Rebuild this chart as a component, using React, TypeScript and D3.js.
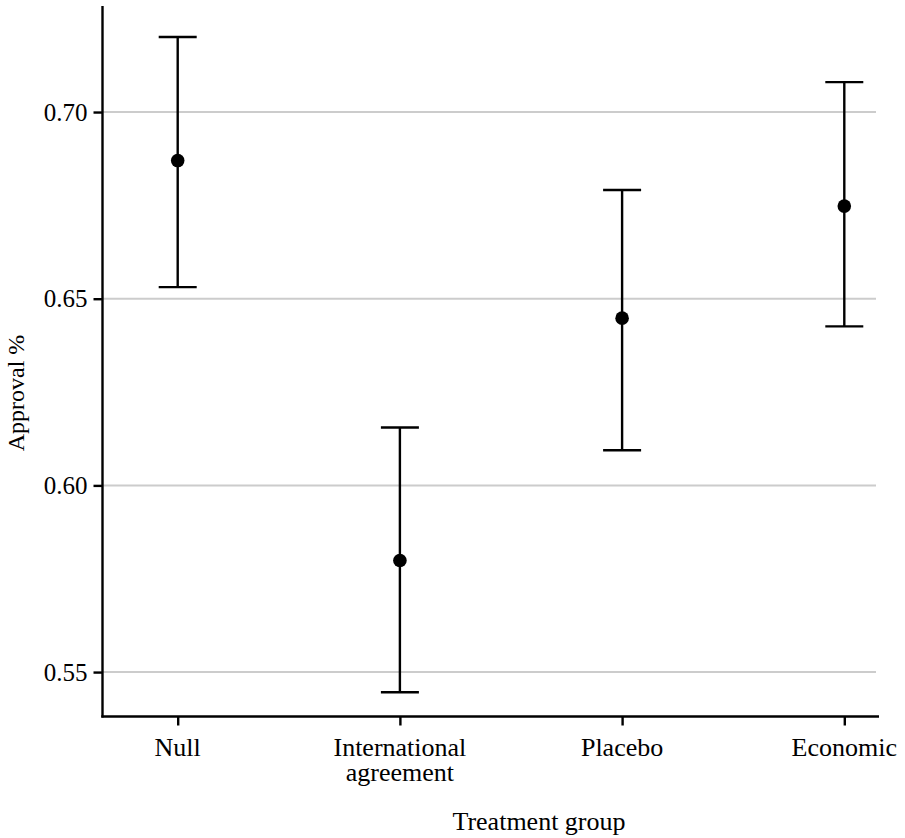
import React, { useEffect, useRef } from 'react';
import * as d3 from 'd3';

// Treatment groups and approval estimates (mean with 95% interval)
const groups = ['Null', 'International agreement', 'Placebo', 'Economic'];
const means = [0.687, 0.5799, 0.6448, 0.6748];
const lowers = [0.6531, 0.5446, 0.6094, 0.6426];
const uppers = [0.7201, 0.6155, 0.6791, 0.7080];
const yTicks = [0.55, 0.6, 0.65, 0.7];

const width = 905;
const height = 838;

const App = () => {
  const svgRef = useRef<SVGSVGElement>(null);

  useEffect(() => {
    const svg = d3.select(svgRef.current);
    svg.selectAll('*').remove();

    const font = '"Liberation Serif", "Times New Roman", serif';
    const left = 102.5;
    const right = 879;
    const top = 6;
    const bottom = 716.5;

    const x = d3.scalePoint<string>()
      .domain(groups)
      .range([177.7, 844.3]);

    const y = d3.scaleLinear()
      .domain([0.5381, 0.7284])
      .range([bottom, top]);

    // Grid lines
    svg.append('g')
      .selectAll('line')
      .data(yTicks)
      .join('line')
      .attr('x1', left)
      .attr('x2', 876)
      .attr('y1', d => y(d))
      .attr('y2', d => y(d))
      .attr('stroke', '#cccccc')
      .attr('stroke-width', 2);

    // Y axis
    const yAxis = svg.append('g')
      .attr('transform', `translate(${left},0)`)
      .call(d3.axisLeft(y).tickValues(yTicks).tickFormat(d3.format('.2f')).tickSize(9).tickPadding(6));
    yAxis.select('.domain').remove();
    yAxis.append('line')
      .attr('x1', 0).attr('x2', 0)
      .attr('y1', top).attr('y2', bottom + 1)
      .attr('stroke', '#000').attr('stroke-width', 2.4);
    yAxis.selectAll('.tick line').attr('stroke', '#000').attr('stroke-width', 2.4);
    yAxis.selectAll('.tick text')
      .attr('fill', '#000')
      .style('font-family', font)
      .style('font-size', '25px');

    // X axis
    const xAxis = svg.append('g')
      .attr('transform', `translate(0,${bottom})`)
      .call(d3.axisBottom(x).tickSize(9).tickFormat(() => ''));
    xAxis.select('.domain').remove();
    xAxis.append('line')
      .attr('x1', left - 1.2).attr('x2', right)
      .attr('y1', 0).attr('y2', 0)
      .attr('stroke', '#000').attr('stroke-width', 2.4);
    xAxis.selectAll('.tick line').attr('stroke', '#000').attr('stroke-width', 2.4);

    // Wrapped category labels
    const labelLines: Record<string, string[]> = {
      'International agreement': ['International', 'agreement'],
    };
    const xl = svg.append('g')
      .style('font-family', font)
      .style('font-size', '26px');
    groups.forEach(g => {
      const lines = labelLines[g] || [g];
      const t = xl.append('text')
        .attr('x', x(g)!)
        .attr('y', 755.5)
        .attr('text-anchor', 'middle')
        .attr('fill', '#000');
      lines.forEach((ln, i) => {
        t.append('tspan')
          .attr('x', x(g)!)
          .attr('dy', i === 0 ? 0 : 25.5)
          .text(ln);
      });
    });

    // Error bars
    const bars = svg.append('g');
    groups.forEach((g, i) => {
      const cx = x(g)!;
      bars.append('line')
        .attr('x1', cx).attr('x2', cx)
        .attr('y1', y(lowers[i])).attr('y2', y(uppers[i]))
        .attr('stroke', '#000').attr('stroke-width', 2.4);
      [lowers[i], uppers[i]].forEach(v => {
        bars.append('line')
          .attr('x1', cx - 19).attr('x2', cx + 19)
          .attr('y1', y(v)).attr('y2', y(v))
          .attr('stroke', '#000').attr('stroke-width', 2.4);
      });
    });

    // Points
    svg.append('g')
      .selectAll('circle')
      .data(groups)
      .join('circle')
      .attr('cx', d => x(d)!)
      .attr('cy', (d, i) => y(means[i]))
      .attr('r', 6.8)
      .attr('fill', '#000');

    // Axis titles
    svg.append('text')
      .attr('x', 539)
      .attr('y', 830)
      .attr('text-anchor', 'middle')
      .style('font-family', font)
      .style('font-size', '26px')
      .text('Treatment group');

    svg.append('text')
      .attr('transform', 'translate(24,393) rotate(-90)')
      .attr('text-anchor', 'middle')
      .style('font-family', font)
      .style('font-size', '24px')
      .text('Approval %');
  }, []);

  return (
    <svg
      ref={svgRef}
      width={width}
      height={height}
      style={{ position: 'absolute', left: 0, top: 0, background: '#fff' }}
    />
  );
};

export default App;
